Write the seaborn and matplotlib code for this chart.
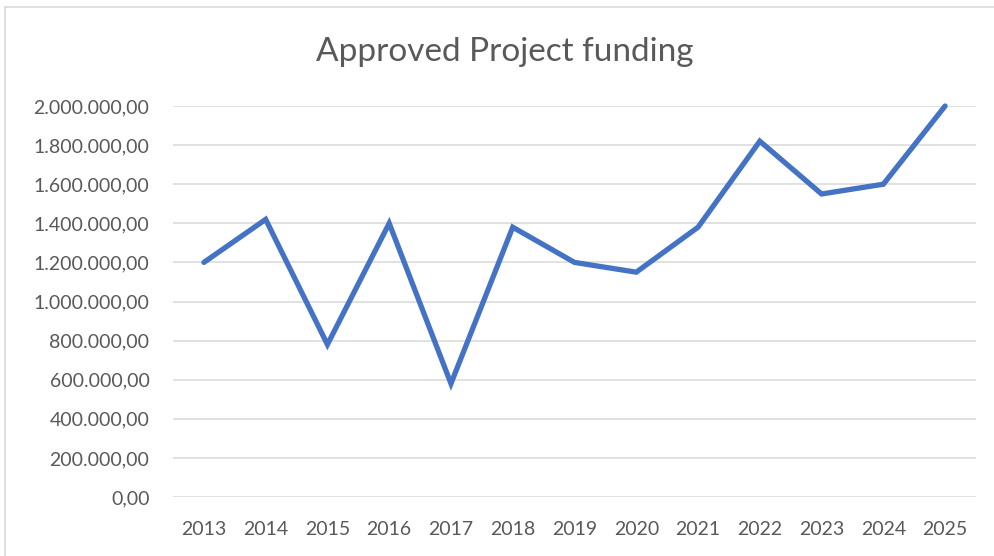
import matplotlib
matplotlib.use("Agg")
import matplotlib.pyplot as plt
import matplotlib.ticker as mticker
from matplotlib.lines import Line2D
import seaborn as sns
import pandas as pd

# Approved funding per year
years = ["2013", "2014", "2015", "2016", "2017", "2018", "2019",
         "2020", "2021", "2022", "2023", "2024", "2025"]
funding = [1200000, 1420000, 780000, 1400000, 580000, 1380000, 1200000,
           1150000, 1380000, 1820000, 1550000, 1600000, 2000000]
y_ticks = [0, 200000, 400000, 600000, 800000, 1000000,
           1200000, 1400000, 1600000, 1800000, 2000000]

df = pd.DataFrame({"year": years, "funding": funding})

sns.set_theme(style="white")
plt.rcParams["font.family"] = ["Lato", "DejaVu Sans"]

text_grey = "#595959"
fig = plt.figure(figsize=(9.94, 5.56), dpi=100)
ax = fig.add_axes([173 / 994, 1 - 497 / 556, (976 - 173) / 994, (497 - 106) / 556])

sns.lineplot(data=df, x="year", y="funding", ax=ax, color="#4472C4",
             linewidth=3.8, sort=False, solid_joinstyle="miter",
             solid_capstyle="round")

ax.set_xlim(-0.5, len(years) - 0.5)
ax.set_ylim(0, 2000000)
ax.set_yticks(y_ticks)


def euro_fmt(v, _pos):
    s = f"{v:,.2f}"
    return s.replace(",", "X").replace(".", ",").replace("X", ".")


ax.yaxis.set_major_formatter(mticker.FuncFormatter(euro_fmt))
ax.yaxis.grid(True, color="#D9D9D9", linewidth=1.1)
ax.set_axisbelow(True)
for s in ax.spines.values():
    s.set_visible(False)
ax.tick_params(axis="both", length=0, labelsize=14, labelcolor=text_grey)
ax.tick_params(axis="y", pad=17)
ax.tick_params(axis="x", pad=17)
ax.set_xlabel("")
ax.set_ylabel("")
for ln in ax.lines:
    ln.set_clip_on(False)

fig.text(0.508, 1 - 52 / 556, "Approved Project funding", ha="center",
         va="center", fontsize=24, color=text_grey)

# chart frame (left and top edges)
fig.add_artist(Line2D([5 / 994, 5 / 994], [0, 1 - 7 / 556],
                      transform=fig.transFigure, color="#D9D9D9", linewidth=1.2))
fig.add_artist(Line2D([5 / 994, 1], [1 - 7 / 556, 1 - 7 / 556],
                      transform=fig.transFigure, color="#D9D9D9", linewidth=1.2))

fig.savefig("out.png", dpi=100, facecolor="white")
